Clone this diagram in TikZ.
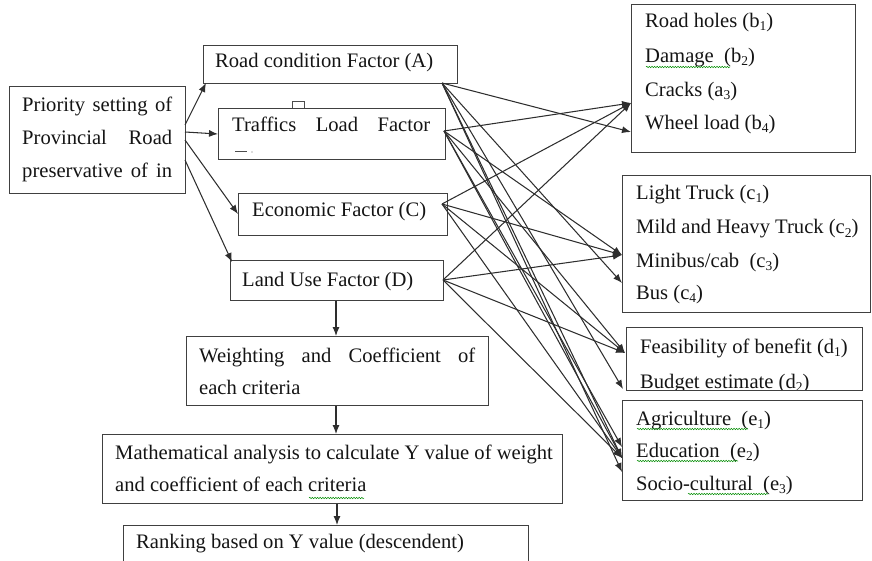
\documentclass[tikz,border=0pt]{standalone}
\usepackage{fontspec}
\setmainfont{Liberation Serif}
\usetikzlibrary{arrows.meta,decorations.pathmorphing}
% lowered index digit used in the criterion labels
\newcommand\idx[1]{\raisebox{-3pt}{\fontsize{13.5}{14}\selectfont #1}}
\begin{document}
\begin{tikzpicture}[x=1pt,y=-1pt,
  boxed/.style={draw=black!75, line width=1.2pt, inner sep=0pt, anchor=north west},
  txt/.style={anchor=base west, inner sep=0pt, text=black!92, font=\fontsize{20.6}{24}\selectfont},
  conn/.style={draw=black!82, line width=1.05pt, -{Latex[length=9pt,width=7pt]}},
  spell/.style={draw=green!55!black, line width=0.5pt, decorate,
    decoration={snake, amplitude=0.7pt, segment length=2.6pt}}]
\useasboundingbox (0,0) rectangle (872,561);

% ---- left column boxes
\node[boxed, minimum width=176pt, minimum height=107pt] (P) at (9,86) {};
\node[boxed, minimum width=254pt, minimum height=38pt]  (A) at (203,45) {};
\node[boxed, minimum width=227pt, minimum height=51pt]  (B) at (218,108) {};
\node[boxed, minimum width=209pt, minimum height=42pt]  (C) at (238,193) {};
\node[boxed, minimum width=213pt, minimum height=40pt]  (D) at (230,260) {};
\node[boxed, minimum width=302pt, minimum height=69pt]  (W) at (186,336) {};
\node[boxed, minimum width=460pt, minimum height=69pt]  (M) at (102,434) {};
\node[boxed, minimum width=405pt, minimum height=45pt]  (R) at (123,525) {};

% ---- right column boxes
\node[boxed, minimum width=224pt, minimum height=148pt] (Sb) at (631,4) {};
\node[boxed, minimum width=248pt, minimum height=137pt] (Sc) at (622,175) {};
\node[boxed, minimum width=236pt, minimum height=63pt]  (Sd) at (626,327) {};
\node[boxed, minimum width=240pt, minimum height=100pt] (Se) at (622,400) {};

% ---- texts of the left column
\node[txt] (P1) at (22,112) {\makebox[150pt][s]{Priority setting of}};
\node[txt] (P2) at (22,145) {\makebox[150pt][s]{Provincial Road}};
\node[txt] (P3) at (22,178) {\makebox[150pt][s]{preservative of in}};
\node[txt] (A1) at (215,68) {Road condition Factor (A)};
\node[txt] (B1) at (232,132) {\makebox[198pt][s]{Traffics Load Factor}};
\node[txt] (C1) at (252,217) {Economic Factor (C)};
\node[txt] (D1) at (242,286) {Land Use Factor (D)};
\node[txt] (W1) at (199,362) {\makebox[276pt][s]{Weighting and Coefficient of}};
\node[txt] (W2) at (199,394) {each criteria};
\node[txt] (M1) at (115,459) {Mathematical analysis to calculate Y value of weight};
\node[txt] (M2) at (115,491) {and coefficient of each criteria};
\node[txt] (R1) at (136,548) {Ranking based on Y value (descendent)};

% small marks around the traffic load box
\draw[black!70, line width=0.9pt] (292,108) -- (292,101) -- (304,101) -- (304,108);
\draw[black!70, line width=1pt] (235,152) -- (247,152);
\fill[black!60] (252,152) circle (0.6pt);

% ---- texts of the right column
\node[txt] (b1t) at (645,28)  {Road holes (b\idx{1})};
\node[txt] (b2t) at (645,63)  {Damage\ \ (b\idx{2})};
\node[txt] (b3t) at (645,97)  {Cracks (a\idx{3})};
\node[txt] (b4t) at (645,130) {Wheel load (b\idx{4})};
\node[txt] (c1t) at (636,200) {Light Truck (c\idx{1})};
\node[txt] (c2t) at (636,234) {Mild and Heavy Truck (c\idx{2})};
\node[txt] (c3t) at (636,267) {Minibus/cab\ \ (c\idx{3})};
\node[txt] (c4t) at (636,299) {Bus (c\idx{4})};
\node[txt] (d1t) at (640,353) {Feasibility of benefit (d\idx{1})};
\begin{scope}
  \clip (626,327) rectangle (862,389);
  \node[txt] (d2t) at (640,388) {Budget estimate (d\idx{2})};
\end{scope}
\node[txt] (e1t) at (636,425) {Agriculture\ \ (e\idx{1})};
\node[txt] (e2t) at (636,457) {Education\ \ (e\idx{2})};
\node[txt] (e3t) at (636,490) {Socio-cultural\ \ (e\idx{3})};

% spell-check underlines
\draw[spell] (646,67) -- (730,67);
\draw[spell] (309,498) -- (364,498);
\draw[spell] (637,429) -- (748,429);
\draw[spell] (637,461) -- (738,461);
\draw[spell] (688,494) -- (768,494);

% ---- flow from the priority box to the factors
\coordinate (p1) at (185,125);
\coordinate (p2) at (185,132);
\coordinate (p3) at (185,140);
\coordinate (p4) at (185,160);
\coordinate (qA) at (206,83);
\coordinate (qB) at (218,134);
\coordinate (qC) at (238,214);
\coordinate (qD) at (232,262);
\draw[conn] (p1) -- (qA);
\draw[conn] (p2) -- (qB);
\draw[conn] (p3) -- (qC);
\draw[conn] (p4) -- (qD);

% ---- vertical flow
\draw[conn] (D.south -| 336,0) -- (W.north -| 336,0);
\draw[conn] (W.south -| 336,0) -- (M.north -| 336,0);
\draw[conn] (M.south -| 337,0) -- (R.north -| 337,0);

% ---- factors to sub-criteria
\coordinate (sA) at (442,83);
\coordinate (sB) at (444,131);
\coordinate (sC) at (442,204);
\coordinate (sD) at (443,280);
\coordinate (tb1) at (631,103);
\coordinate (tb2) at (631,132);
\coordinate (tc1) at (622,255);
\coordinate (tc2) at (622,283);
\coordinate (td1) at (625,353);
\coordinate (td2) at (623,389);
\coordinate (te1) at (622,447);
\coordinate (te2) at (622,458);
\coordinate (te3) at (622,472);

\foreach \t in {tb2,tc2,td2,te2,te3} \draw[conn] (sA) -- (\t);
\foreach \t in {tb1,tc1,td1,te1,te2} \draw[conn] (sB) -- (\t);
\foreach \t in {tb1,tc1,td1,te2} \draw[conn] (sC) -- (\t);
\foreach \t in {tb1,tc1,td1,te2} \draw[conn] (sD) -- (\t);
\end{tikzpicture}
\end{document}
